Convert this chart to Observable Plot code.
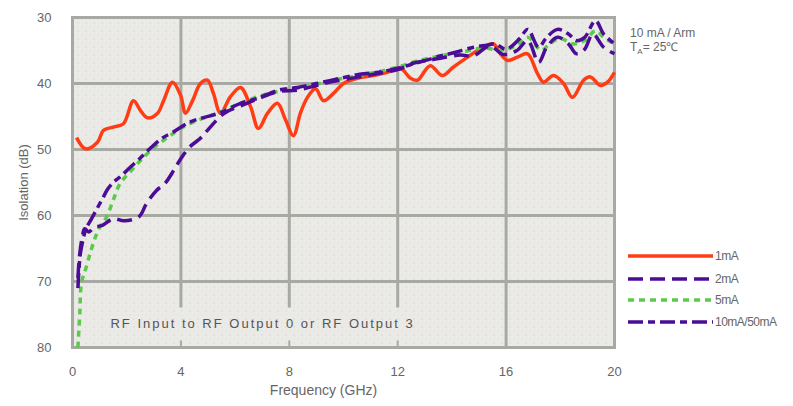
<!DOCTYPE html>
<html><head><meta charset="utf-8">
<script src="https://cdn.jsdelivr.net/npm/d3@7"></script>
<script src="https://cdn.jsdelivr.net/npm/@observablehq/plot@0.6"></script>
<style>
body{margin:0;background:#fff;}
#chart{position:relative;width:793px;height:406px;}
</style></head><body><div id="chart"></div>
<script>
// ---- data ----
const seriesNames = ["1mA", "2mA", "5mA", "10mA/50mA"];
const xTicks = [0, 4, 8, 12, 16, 20];
const yTicks = [30, 40, 50, 60, 70, 80];
const xLabel = "Frequency (GHz)";
const yLabel = "Isolation (dB)";
const noteText = "RF Input to RF Output 0 or RF Output 3";
const condLine1 = "10 mA / Arm";

const freq1mA = [0.15,0.48,0.92,1.14,1.51,1.88,2.25,2.51,2.77,3.14,3.36,3.69,3.99,4.17,4.43,4.72,4.98,5.2,5.46,5.83,6.2,6.57,6.86,7.2,7.56,7.86,8.15,8.41,8.67,8.97,9.26,9.63,10.0,10.52,11.1,11.62,12.1,12.47,12.73,13.2,13.65,14.06,14.58,14.94,15.31,15.54,15.79,16.05,16.42,16.79,17.16,17.38,17.75,18.12,18.45,18.86,19.11,19.48,19.74,20];
const iso1mA = [48.2,49.9,48.9,47.1,46.6,46.1,42.6,44.1,45.2,44.5,42.6,39.8,41.8,44.5,42.6,40,39.5,41.5,44.5,42,40.6,43.5,46.8,44.5,43,45.5,47.9,44.5,42.1,40.8,42.6,41.5,40,39.2,38.8,38.3,37.7,39.2,39.5,37.3,38.8,37.5,36,35,34.2,34,35.5,36.5,36,35.5,38.5,39.8,38.8,40,42.1,39.5,39,40.3,39.8,38.3];

const freq2mA = [0.2,0.25,0.35,0.45,0.6,0.8,1.1,1.5,1.9,2.45,2.73,3.1,3.4,3.73,3.95,4.3,4.72,4.98,5.6,6.2,6.9,7.6,8.3,9.0,9.6,10.6,11.5,12.0,12.6,13.4,14.3,14.8,15.4,15.9,16.4,16.8,17.2,17.5,17.9,18.3,18.6,18.9,19.2,19.6,20];
const iso2mA = [69.5,66.5,63.5,62,62.5,61.8,61.5,60.5,60.8,60.2,58.2,56.2,55.2,53.2,51.7,49.7,48.3,47.1,44.5,43.4,42.2,41.2,41,40.3,39.7,39,38.3,37.9,36.9,36.3,35.7,35.8,34.3,35.6,35,33.5,36.8,34.5,33,34,35.5,34.8,32.5,34.5,35.5];

const freq5mA = [0.2,0.27,0.33,0.5,0.8,1.0,1.25,1.5,1.75,2.1,2.5,3.0,3.5,4.0,4.6,5.3,6.2,7.0,7.8,8.6,9.5,10.3,11.2,12.0,12.8,13.6,14.4,15.2,15.8,16.4,16.8,17.3,17.6,18.0,18.5,18.9,19.3,19.6,20];
const iso5mA = [80,74.8,70.3,67.9,63.8,61.8,60.3,57.7,55.2,53.5,51.7,49.7,48.2,46.8,45.6,44.6,43,41.8,41,40.5,39.6,39,38.3,37.5,36.5,35.8,35.2,34.6,35,34.2,33,35,34,33.2,34,33.5,32,33,34];

const freq10mA = [0.2,0.25,0.3,0.4,0.5,0.7,0.9,1.1,1.3,1.5,1.8,2.1,2.5,2.9,3.3,3.7,4.3,4.8,5.4,6.2,6.8,7.6,8.3,9.0,9.9,10.6,11.3,12.0,12.6,13.2,13.6,14.1,14.8,15.3,15.6,16.0,16.5,16.8,17.2,17.5,17.9,18.3,18.6,18.9,19.3,19.6,20];
const iso10mA = [71,67.5,65.5,63.5,62,60.5,59,57.5,56,55,54,52.8,51.3,49.7,48.3,47.4,45.9,45.2,44.5,43,42.3,41,40.6,40,39.2,38.6,38.3,37.7,37,36.3,35.8,35.3,34.5,34.2,34,34.8,33.2,31.8,34.5,33,31.8,32.5,33.5,33,30.5,32.5,34];

// ---- styles ----
const colors = ["#ff3c14", "#4b0c96", "#5cc94a", "#4b0c96"];
const dashes = [null, "15,7", "6,5", "15,5,7,5"];
const gridColor = "#a9a9a3";
const textColor = "#666";
const font = "'Liberation Sans', Arial, sans-serif";

const toRows = (name, fs, vs) => fs.map((f, i) => ({series: name, f, v: vs[i]}));
const seriesData = [
  toRows(seriesNames[0], freq1mA, iso1mA),
  toRows(seriesNames[1], freq2mA, iso2mA),
  toRows(seriesNames[2], freq5mA, iso5mA),
  toRows(seriesNames[3], freq10mA, iso10mA)
];

function defsMark() {
  const defs = d3.create("svg:defs");
  const p = defs.append("pattern").attr("id", "hatch").attr("width", 8).attr("height", 8).attr("patternUnits", "userSpaceOnUse");
  p.append("rect").attr("width", 8).attr("height", 8).attr("fill", "#fbfbf9");
  for (let i = 0; i < 8; i++) for (let j = 0; j < 8; j++) {
    if ((i + j) % 2 === 0) p.append("rect").attr("x", i).attr("y", j).attr("width", 1).attr("height", 1).attr("fill", "#d9d9d6");
  }
  p.append("rect").attr("x", 1).attr("y", 2).attr("width", 1).attr("height", 1).attr("fill", "#f6f2b8");
  p.append("rect").attr("x", 5).attr("y", 6).attr("width", 1).attr("height", 1).attr("fill", "#f4d4d0");
  p.append("rect").attr("x", 5).attr("y", 2).attr("width", 1).attr("height", 1).attr("fill", "#f6f3c4");
  return defs.node();
}

const lineMarks = [0, 2, 1, 3].map(k => Plot.line(seriesData[k], {
  x: "f", y: "v", stroke: colors[k], strokeWidth: 3.5,
  strokeDasharray: dashes[k] || undefined, curve: "catmull-rom", strokeLinecap: "butt"
}));

const chart = Plot.plot({
  width: 793, height: 406,
  marginLeft: 72, marginRight: 179, marginTop: 17, marginBottom: 59,
  style: {fontFamily: font, fontSize: "13px", color: textColor, background: "white", overflow: "visible"},
  x: {domain: [0, 20]},
  y: {domain: [80, 30]},
  marks: [
    defsMark,
    Plot.frame({fill: "url(#hatch)"}),
    Plot.ruleY(yTicks.slice(1, -1), {stroke: gridColor, strokeWidth: 3}),
    Plot.ruleX([16], {stroke: gridColor, strokeWidth: 3}),
    Plot.ruleX([4, 8, 12], {y1: 30, y2: 74, stroke: gridColor, strokeWidth: 3}),
    Plot.ruleX([4, 8, 12], {y1: 79, y2: 80, stroke: gridColor, strokeWidth: 2}),
    Plot.frame({stroke: gridColor, strokeWidth: 3}),
    ...lineMarks,
    Plot.text([noteText], {x: 1.4, y: 76.4, text: d => d, textAnchor: "start", fill: "#555", fontSize: 13, className: "note"}),
    Plot.axisX({ticks: xTicks, tickSize: 0, tickPadding: 19, label: null, fill: textColor}),
    Plot.axisY({ticks: yTicks, tickSize: 0, tickPadding: 21, label: yLabel, labelAnchor: "center", labelOffset: 54, labelArrow: false, fill: textColor}),
    Plot.text([xLabel], {frameAnchor: "bottom", dy: 47, dx: -20, text: d => d, fill: textColor, fontSize: 14})
  ]
});
document.getElementById("chart").appendChild(chart);
d3.select(chart).selectAll(".note text").attr("letter-spacing", "2px");

// ---- legend & conditions (outside plot frame) ----
const svg = d3.select(chart);
const lg = svg.append("g").attr("font-family", font).attr("font-size", 12).attr("fill", textColor).attr("text-anchor", "start");
const legendY = [256, 279, 300, 322];
seriesNames.forEach((name, k) => {
  lg.append("line").attr("x1", 628).attr("x2", 713).attr("y1", legendY[k]).attr("y2", legendY[k])
    .attr("stroke", colors[k]).attr("stroke-width", 3.5).attr("stroke-dasharray", dashes[k] || null);
  lg.append("text").attr("x", 715).attr("y", legendY[k]).attr("dy", "0.35em").attr("letter-spacing", "-0.5px").text(name);
});
const cond = svg.append("g").attr("font-family", font).attr("font-size", 12).attr("fill", textColor).attr("text-anchor", "start");
cond.append("text").attr("x", 630).attr("y", 33).attr("dy", "0.35em").text(condLine1);
const t2 = cond.append("text").attr("x", 630).attr("y", 47).attr("dy", "0.35em");
t2.append("tspan").text("T");
t2.append("tspan").attr("font-size", 8).attr("dy", "3").text("A");
t2.append("tspan").attr("dy", "-3").text("= 25℃");
</script></body></html>
